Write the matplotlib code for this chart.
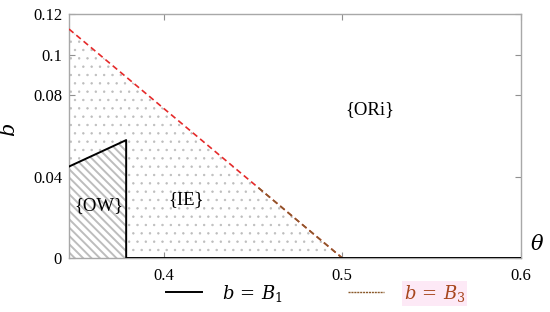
import matplotlib
matplotlib.use("Agg")
import matplotlib.pyplot as plt
from matplotlib.patches import Polygon, Rectangle
from matplotlib.lines import Line2D

plt.rcParams['font.family'] = ['Liberation Serif', 'DejaVu Serif']
plt.rcParams['mathtext.fontset'] = 'dejavuserif'

# ---- data ----
theta_B3 = [0.347, 0.5]          # b = B3 boundary (dashed)
b_B3 = [0.1126, 0.0]
theta_B1 = [0.347, 0.379, 0.379, 0.6]   # b = B1 boundary (solid)
b_B1 = [0.045, 0.058, 0.0, 0.0]
xlim = (0.347, 0.6)
ylim = (0.0, 0.12)
xticks = [0.4, 0.5, 0.6]
xticklabels = ['0.4', '0.5', '0.6']
yticks = [0, 0.04, 0.08, 0.1, 0.12]
yticklabels = ['0', '0.04', '0.08', '0.1', '0.12']
regions = ['{OW}', '{IE}', '{ORi}']
region_pos = [(0.3635, 0.026), (0.4125, 0.0285), (0.5155, 0.0728)]

fig = plt.figure(figsize=(5.5, 3.12), dpi=100)
ax = fig.add_axes([0.1255, 0.173, 0.8215, 0.782])
ax.set_xlim(*xlim)
ax.set_ylim(*ylim)

# IE dotted region (left of B3 line)
with plt.rc_context({'hatch.linewidth': 0.5}):
    ie = Polygon([(theta_B3[0], 0), (theta_B3[0], b_B3[0]), (theta_B3[1], b_B3[1])],
                 closed=True, facecolor='white', edgecolor='#bdbdbd', linewidth=0,
                 hatch='..', zorder=1)
ax.add_patch(ie)

# OW hatched region
with plt.rc_context({'hatch.linewidth': 1.4}):
    ow = Polygon([(theta_B1[0], 0), (theta_B1[0], b_B1[0]), (theta_B1[1], b_B1[1]),
                  (theta_B1[2], b_B1[2])],
                 closed=True, facecolor='white', edgecolor='#bdbdbd', linewidth=0,
                 hatch='\\\\\\\\', zorder=2)
ax.add_patch(ow)

# B1 line
l1, = ax.plot(theta_B1, b_B1, color='black', lw=1.4, zorder=4)

# B3 line: red upper part, brown lower part
ax.plot(theta_B3, b_B3, color='#e52a2a', lw=1.2, dashes=(3.5, 2.2), zorder=3)
l3, = ax.plot(theta_B3, b_B3, color='#8a5a2b', lw=1.2, dashes=(3.5, 2.2), zorder=3.5)
clip = Rectangle((xlim[0], ylim[0]), xlim[1] - xlim[0], 0.035, transform=ax.transData)
l3.set_clip_path(clip)

for txt, (x, y) in zip(regions, region_pos):
    ax.text(x, y, txt, fontsize=13.5, ha='center', va='center', zorder=5)

ax.set_xticks(xticks)
ax.set_xticklabels(xticklabels)
ax.set_yticks(yticks)
ax.set_yticklabels(yticklabels)
ax.tick_params(direction='in', length=4, color='#909090', labelsize=12,
               top=True, right=True, labeltop=False, labelright=False, pad=5)
ax.tick_params(axis='x', pad=7)
for s in ax.spines.values():
    s.set_color('#a8a8a8')
    s.set_linewidth(1.0)

ax.set_ylabel(r'$b$', fontsize=15)
ax.yaxis.set_label_coords(-0.108, 0.525)
ax.text(1.035, 0.055, r'$\theta$', transform=ax.transAxes, fontsize=15,
        ha='center', va='center')

h3 = Line2D([0], [0], color='#8a5a2b', lw=1.0, dashes=(1.5, 0.6))
leg = ax.legend([l1, h3], [r'$b\,=\,B_1$', r'$b\,=\,B_3$'], ncol=2, frameon=False,
                loc='upper center', bbox_to_anchor=(0.546, -0.035), fontsize=13,
                handlelength=2.0, handletextpad=1.1, columnspacing=3.6)
texts = leg.get_texts()
texts[1].set_color('#a8461e')
texts[1].set_bbox(dict(facecolor='#fde9f6', edgecolor='none', pad=1.5))

fig.savefig('out.png', dpi=100)
